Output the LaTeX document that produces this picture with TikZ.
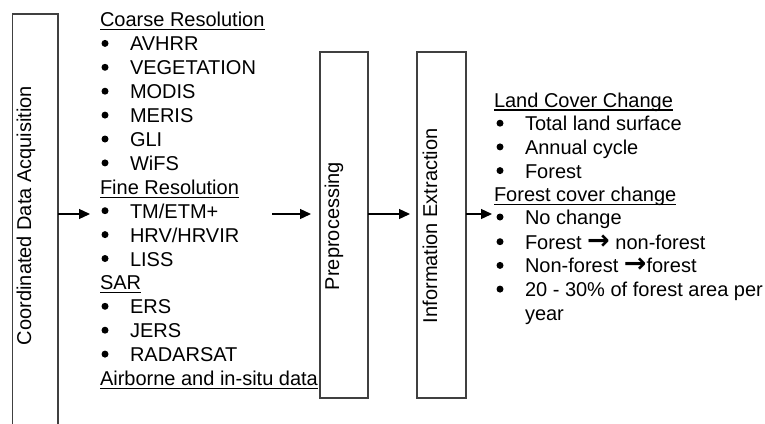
\documentclass[tikz,border=0pt]{standalone}
\usepackage{fontspec}
\setmainfont{Liberation Sans}
\newfontfamily\arrowfont{DejaVu Sans}
\usetikzlibrary{arrows.meta}
\newsavebox\ulinebox
\newcommand\ulhead[1]{\sbox\ulinebox{#1}\rlap{\rule[-3.5pt]{\wd\ulinebox}{1.3pt}}\usebox\ulinebox}
\newcommand\rarr{{\arrowfont\bfseries\fontsize{27}{24}\selectfont →}}
\begin{document}
\begin{tikzpicture}[x=1pt,y=-1pt,
  box/.style={draw=black!75, line width=1.6pt, rectangle, inner sep=0pt, outer sep=0pt},
  txt/.style={anchor=base west, inner sep=0pt, outer sep=0pt, font=\fontsize{20}{24}\selectfont},
  rtxt/.style={txt, rotate=90},
  bul/.style={circle, fill=black, inner sep=0pt, outer sep=0pt, minimum size=7pt},
  arr/.style={-{Triangle[length=11pt,width=10pt]}, line width=1.3pt}]
\useasboundingbox (0,0) rectangle (765,423);

% boxes
\node[box, anchor=north west, minimum width=45.5pt, minimum height=420pt] (acq) at (12.5,14) {};
\node[box, anchor=north west, minimum width=48pt, minimum height=346pt] (pre) at (320,52) {};
\node[box, anchor=north west, minimum width=49pt, minimum height=346pt] (inf) at (417,52) {};

% rotated labels
\node[rtxt] (acqt) at (31,345) {Coordinated Data Acquisition};
\node[rtxt] (pret) at (339,290) {Preprocessing};
\node[rtxt] (inft) at (437,323) {Information Extraction};

% left column
\node[txt] (h1) at (100,27) {\ulhead{Coarse Resolution}};
\node[txt] (l1) at (130,50.9) {AVHRR};
\node[txt] (l2) at (130,74.8) {VEGETATION};
\node[txt] (l3) at (130,98.7) {MODIS};
\node[txt] (l4) at (130,122.6) {MERIS};
\node[txt] (l5) at (130,146.5) {GLI};
\node[txt] (l6) at (130,170.4) {WiFS};
\node[txt] (h2) at (100,194.3) {\ulhead{Fine Resolution}};
\node[txt] (l8) at (130,218.2) {TM/ETM+};
\node[txt] (l9) at (130,242.1) {HRV/HRVIR};
\node[txt] (l10) at (130,266) {LISS};
\node[txt] (h3) at (100,289.9) {\ulhead{SAR}};
\node[txt] (l12) at (130,313.8) {ERS};
\node[txt] (l13) at (130,337.7) {JERS};
\node[txt] (l14) at (130,361.6) {RADARSAT};
\node[txt] (h4) at (100,385.5) {\ulhead{Airborne and in-situ data}};
\foreach \n/\y in {1/50.9,2/74.8,3/98.7,4/122.6,5/146.5,6/170.4,8/218.2,9/242.1,10/266,12/313.8,13/337.7,14/361.6}
  \node[bul] (lb\n) at (105,\y-7.5) {};

% right column
\node[txt] (r0) at (494,107) {\ulhead{Land Cover Change}};
\node[txt] (r1) at (525,130.7) {Total land surface};
\node[txt] (r2) at (525,154.4) {Annual cycle};
\node[txt] (r3) at (525,178.1) {Forest};
\node[txt] (r4) at (494,201.8) {\ulhead{Forest cover change}};
\node[txt] (r5) at (525,224.5) {No change};
\node[txt] (r6) at (525,249.2) {Forest \rarr{} non-forest};
\node[txt] (r7) at (525,272.9) {Non-forest \rarr{}forest};
\node[txt] (r8) at (525,296.6) {20 - 30\% of forest area per};
\node[txt] (r9) at (525,320.3) {year};
\foreach \n/\y in {1/130.7,2/154.4,3/178.1,5/224.5,6/249.2,7/272.9,8/296.6}
  \node[bul] (rb\n) at (500,\y-7.5) {};

% connectors
\coordinate (t1) at (90,214);
\coordinate (s2) at (272,214);
\coordinate (t2) at (311,214);
\coordinate (t3) at (410,214);
\coordinate (t4) at (492,214);
\draw[arr] (acq.east |- t1) -- (t1);
\draw[arr] (s2) -- (t2);
\draw[arr] (pre.east |- t3) -- (t3);
\draw[arr] (inf.east |- t4) -- (t4);
\end{tikzpicture}
\end{document}
